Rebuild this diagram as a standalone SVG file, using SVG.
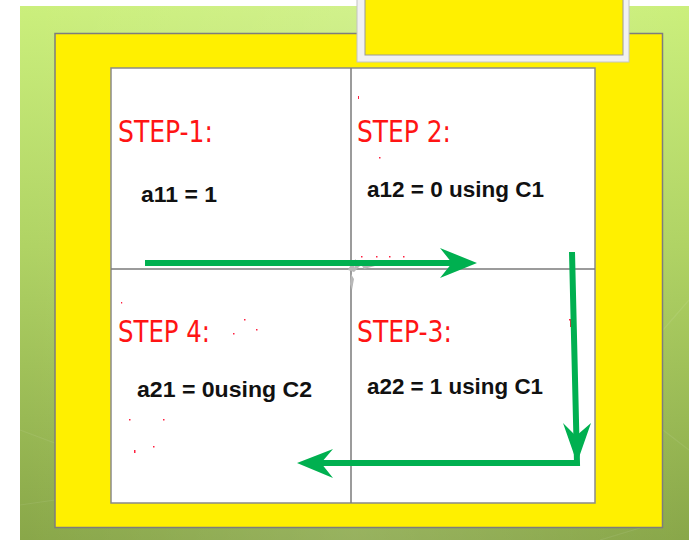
<svg xmlns="http://www.w3.org/2000/svg" width="689" height="540" viewBox="0 0 689 540">
  <defs>
    <linearGradient id="bg" x1="0" y1="0" x2="0" y2="1">
      <stop offset="0" stop-color="#cbef7c"/>
      <stop offset="0.45" stop-color="#b0d364"/>
      <stop offset="1" stop-color="#89a749"/>
    </linearGradient>
    <linearGradient id="sheen" x1="0" y1="0" x2="1" y2="0">
      <stop offset="0" stop-color="#ffffff" stop-opacity="0"/>
      <stop offset="0.5" stop-color="#ffffff" stop-opacity="0.12"/>
      <stop offset="1" stop-color="#ffffff" stop-opacity="0"/>
    </linearGradient>
  </defs>
  <style>
    .step { font-family: "Liberation Sans Narrow", "DejaVu Sans Condensed", "Liberation Sans", sans-serif; font-size: 30px; fill: #ff1414; }
    .eq { font-family: "Liberation Sans", Arial, sans-serif; font-size: 22.5px; font-weight: bold; fill: #111111; }
    .grid { stroke: #7a7a7a; stroke-width: 1.5; fill: none; }
    .flow { stroke: #00b050; stroke-width: 6; fill: none; stroke-linejoin: miter; }
    .head { fill: #00b050; }
    .speck { fill: #ff2040; }
  </style>

  <!-- page background -->
  <rect x="0" y="0" width="689" height="540" fill="#ffffff"/>
  <rect x="20" y="6" width="669" height="534" fill="url(#bg)"/>
  <rect x="20" y="6" width="669" height="534" fill="url(#sheen)"/>
  <g stroke="#ffffff" stroke-opacity="0.08" stroke-width="1.2" fill="none">
    <path d="M20,430 L60,445 M20,505 L55,500 M663,330 L689,300 M663,430 L689,450 M600,540 L640,528"/>
  </g>

  <!-- yellow frame -->
  <rect x="55" y="33.5" width="607.5" height="494" fill="#fff000" stroke="#7d7d7d" stroke-width="1.5"/>

  <!-- title placeholder -->
  <rect x="357" y="-2" width="272" height="64" fill="#f1f1f1" stroke="#c4c4c4" stroke-width="1"/>
  <rect x="365" y="-2" width="258" height="57" fill="#fff000" stroke="#9a9a9a" stroke-width="1"/>

  <!-- white board with 2x2 grid -->
  <rect x="111" y="68" width="484" height="435" fill="#ffffff" stroke="#8a8a8a" stroke-width="1.5"/>
  <line class="grid" x1="351" y1="68" x2="351" y2="503"/>
  <line class="grid" x1="111" y1="269" x2="595" y2="269"/>

  <g id="step1">
    <text class="step" x="118" y="142" textLength="95" lengthAdjust="spacingAndGlyphs">STEP-1:</text>
    <text class="eq" x="141" y="202" textLength="76" lengthAdjust="spacingAndGlyphs">a11 = 1</text>
  </g>
  <g id="step2">
    <text class="step" x="357" y="142" textLength="94" lengthAdjust="spacingAndGlyphs">STEP 2:</text>
    <text class="eq" x="367" y="197" textLength="177" lengthAdjust="spacingAndGlyphs">a12 = 0 using C1</text>
  </g>
  <g id="step3">
    <text class="step" x="357" y="342" textLength="95" lengthAdjust="spacingAndGlyphs">STEP-3:</text>
    <text class="eq" x="367" y="394" textLength="176" lengthAdjust="spacingAndGlyphs">a22 = 1 using C1</text>
  </g>
  <g id="step4">
    <text class="step" x="118" y="342" textLength="92" lengthAdjust="spacingAndGlyphs">STEP 4:</text>
    <text class="eq" x="137" y="397" textLength="175" lengthAdjust="spacingAndGlyphs">a21 = 0using C2</text>
  </g>

  <!-- small ink specks -->
  <g class="speck">
    <rect x="358" y="96" width="1" height="3"/>
    <rect x="379" y="157" width="1.5" height="1.5"/>
    <rect x="361" y="256" width="1.5" height="1.5"/>
    <rect x="376" y="256" width="1.5" height="1.5"/>
    <rect x="389" y="256" width="1.5" height="1.5"/>
    <rect x="403" y="256" width="1.5" height="1.5"/>
    <rect x="244" y="319" width="1.5" height="1.5"/>
    <rect x="256" y="329" width="1.5" height="1.5"/>
    <rect x="233" y="333" width="1.5" height="1.5"/>
    <rect x="129" y="419" width="1.5" height="1.5"/>
    <rect x="163" y="419" width="1.5" height="1.5"/>
    <rect x="134" y="450" width="1.5" height="3"/>
    <rect x="153" y="446" width="1.5" height="1.5"/>
    <rect x="569" y="319" width="3" height="1.5"/>
    <rect x="570" y="319" width="1.2" height="8"/>
    <rect x="121" y="302" width="1.2" height="1.5"/>
  </g>
  <g fill="#b8b8b8">
    <path d="M348,270 L352,262 L356,259 L354,268 L357,262 L360,266 L354,272 Z"/>
    <path d="M351,274 L354,279 L352,290 L350,284 Z"/>
    <path d="M362,266 L372,264 L375,266 L364,269 Z"/>
  </g>

  <!-- flow arrows -->
  <g id="connectors">
    <line class="flow" x1="145" y1="263" x2="452" y2="263"/>
    <path class="head" d="M477,263 L440,248 L452,263 L440,278 Z"/>
    <polyline class="flow" points="572,252 577,463 310,463"/>
    <path class="head" d="M577,463 L563,423 L576,436 L591,423 Z"/>
    <path class="head" d="M297,463 L333,449 L321,463 L333,478 Z"/>
  </g>
</svg>
